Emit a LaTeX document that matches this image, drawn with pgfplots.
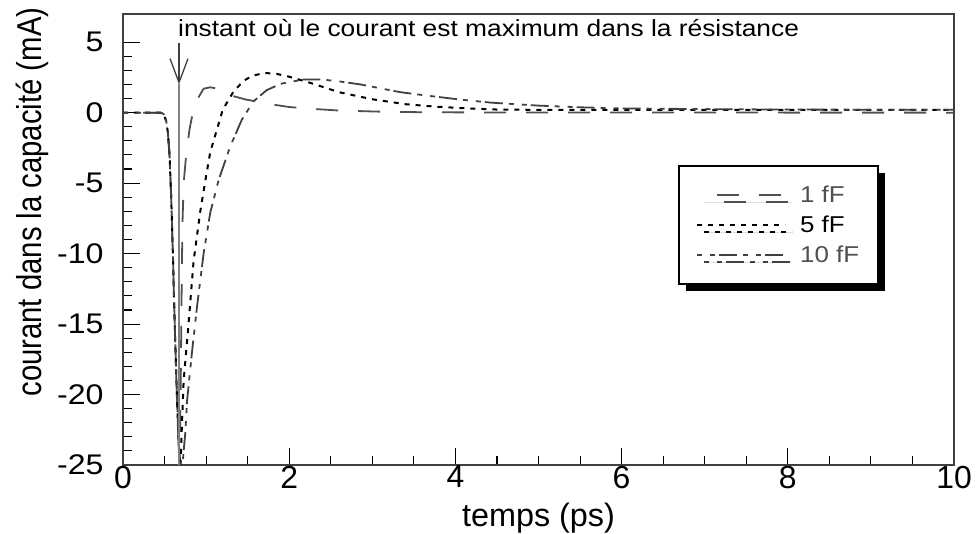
\documentclass[border=0pt]{standalone}
\usepackage{fontspec}
\setmainfont{Liberation Sans}[FakeStretch=1.13]
\newfontfamily\plainfont{Liberation Sans}
\usepackage{graphicx}
\usepackage{pgfplots}
\pgfplotsset{compat=1.18}
\usetikzlibrary{arrows.meta,shadows}
\definecolor{gA}{HTML}{505050}
\definecolor{gB}{HTML}{404040}
\begin{document}
\begin{tikzpicture}
\begin{axis}[
  at={(123bp,69bp)}, anchor=south west,
  scale only axis, width=831bp, height=451bp,
  xmin=0, xmax=10, ymin=-25, ymax=7,
  xtick={0,2,...,10}, ytick={-25,-20,...,5},
  minor x tick num=3, minor y tick num=4,
  tick align=inside, xtick pos=lower, ytick pos=left,
  major tick length=17bp, minor tick length=9bp,
  tick style={black, line width=1.1bp},
  axis line style={gB, line width=1.4bp},
  /pgf/number format/assume math mode=true,
  xticklabel style={font=\plainfont\fontsize{32}{32}\selectfont, yshift=2.5bp},
  yticklabel style={font=\fontsize{28.5}{28.5}\selectfont, xshift=-16bp},
  xlabel={temps (ps)},
  xlabel style={font=\plainfont\fontsize{32.5}{33}\selectfont, at={(axis description cs:0.5,-0.137)}, anchor=base},
  ylabel={\scalebox{1}[1.18]{\plainfont\fontsize{29.4}{30}\selectfont courant dans la capacité (mA)}},
  ylabel style={at={(axis description cs:-0.0975,0.583)}, anchor=base},
  legend style={at={(0.668,0.665)}, anchor=north west, draw=black, line width=2bp, fill=white,
    font=\fontsize{23}{23}\selectfont, inner xsep=17bp, inner ysep=18bp, row sep=8bp,
    drop shadow={shadow xshift=7bp, shadow yshift=-7bp, fill=black, opacity=1}},
  legend cell align=left,
  legend image code/.code={\draw[#1] (0bp,0bp) -- (88bp,0bp); \path (100bp,0bp);},
]
\addplot[gA, line width=1.8bp, dash pattern=on 22bp off 20bp, dash phase=22bp] coordinates {
(0,0) (0.45,0) (0.49,-0.1) (0.52,-0.6) (0.54,-1.4) (0.56,-3) (0.58,-6) (0.60,-10)
(0.62,-14.5) (0.64,-18.5) (0.66,-22) (0.68,-25.5) (0.695,-19) (0.705,-13) (0.715,-8)
(0.73,-5) (0.76,-3) (0.80,-1.2) (0.84,0) (0.90,1.0) (0.97,1.7) (1.05,1.8) (1.12,1.72)
(1.2,1.5) (1.3,1.22) (1.47,0.94) (1.6,0.8) (1.75,0.62) (2.0,0.4) (2.25,0.28) (2.6,0.15)
(3.1,0.07) (3.6,0.03) (4.5,0.01) (10,0)};
\addlegendentry{\textcolor{gA}{1 fF}}
\addplot[black, line width=2bp, dash pattern=on 5bp off 6bp] coordinates {
(0,0) (0.45,0) (0.49,-0.1) (0.52,-0.6) (0.54,-1.4) (0.56,-3) (0.58,-6) (0.60,-10)
(0.62,-14.5) (0.64,-18.5) (0.66,-22) (0.68,-24.5) (0.69,-25.5) (0.71,-22) (0.73,-19)
(0.78,-15.6) (0.85,-10.5) (0.93,-7) (1.0,-4.5) (1.05,-2.8) (1.13,-1.2) (1.2,0.2)
(1.33,1.5) (1.45,2.25) (1.55,2.6) (1.7,2.82) (1.85,2.75) (2.0,2.55) (2.25,2.12)
(2.6,1.45) (3.0,0.95) (3.4,0.6) (3.75,0.43) (4.15,0.3) (4.5,0.22) (5,0.2) (6,0.2) (10,0.2)};
\addlegendentry{5 fF}
\addplot[gB, line width=1.8bp, dash pattern=on 5bp off 8bp on 5bp off 4bp on 18bp off 6bp] coordinates {
(0,0) (0.45,0) (0.49,-0.1) (0.52,-0.6) (0.54,-1.4) (0.56,-3) (0.58,-6) (0.60,-10)
(0.62,-14.5) (0.64,-18.5) (0.66,-22) (0.68,-24.5) (0.70,-26) (0.75,-22.7) (0.77,-20.5)
(0.83,-17) (0.89,-13.8) (0.97,-10) (1.05,-7.1) (1.15,-4.8) (1.29,-2.4) (1.43,-0.5)
(1.57,0.8) (1.73,1.6) (1.9,2.05) (2.17,2.35) (2.4,2.35) (2.62,2.2) (2.86,2.0) (3.06,1.77)
(3.34,1.45) (3.67,1.2) (4.07,0.92) (4.43,0.71) (5,0.5) (5.5,0.38) (6,0.3) (7,0.25) (8,0.22) (10,0.2)};
\addlegendentry{\textcolor{gA}{10 fF}}
\node[anchor=base west, font=\fontsize{23.4}{24}\selectfont, inner sep=0pt] at (axis cs:0.662,5.4)
  {instant où le courant est maximum dans la résistance};
\draw[gB, line width=1.3bp, -{Straight Barb[length=24bp,width=18bp]}] (axis cs:0.674,4.97) -- (axis cs:0.674,2.0);
\draw[gray, line width=1.5bp] (axis cs:0.674,2.0) -- (axis cs:0.674,-25);
\end{axis}
\pgfresetboundingbox
\path[use as bounding box] (0,0) rectangle (977bp,534bp);
\end{tikzpicture}
\end{document}
